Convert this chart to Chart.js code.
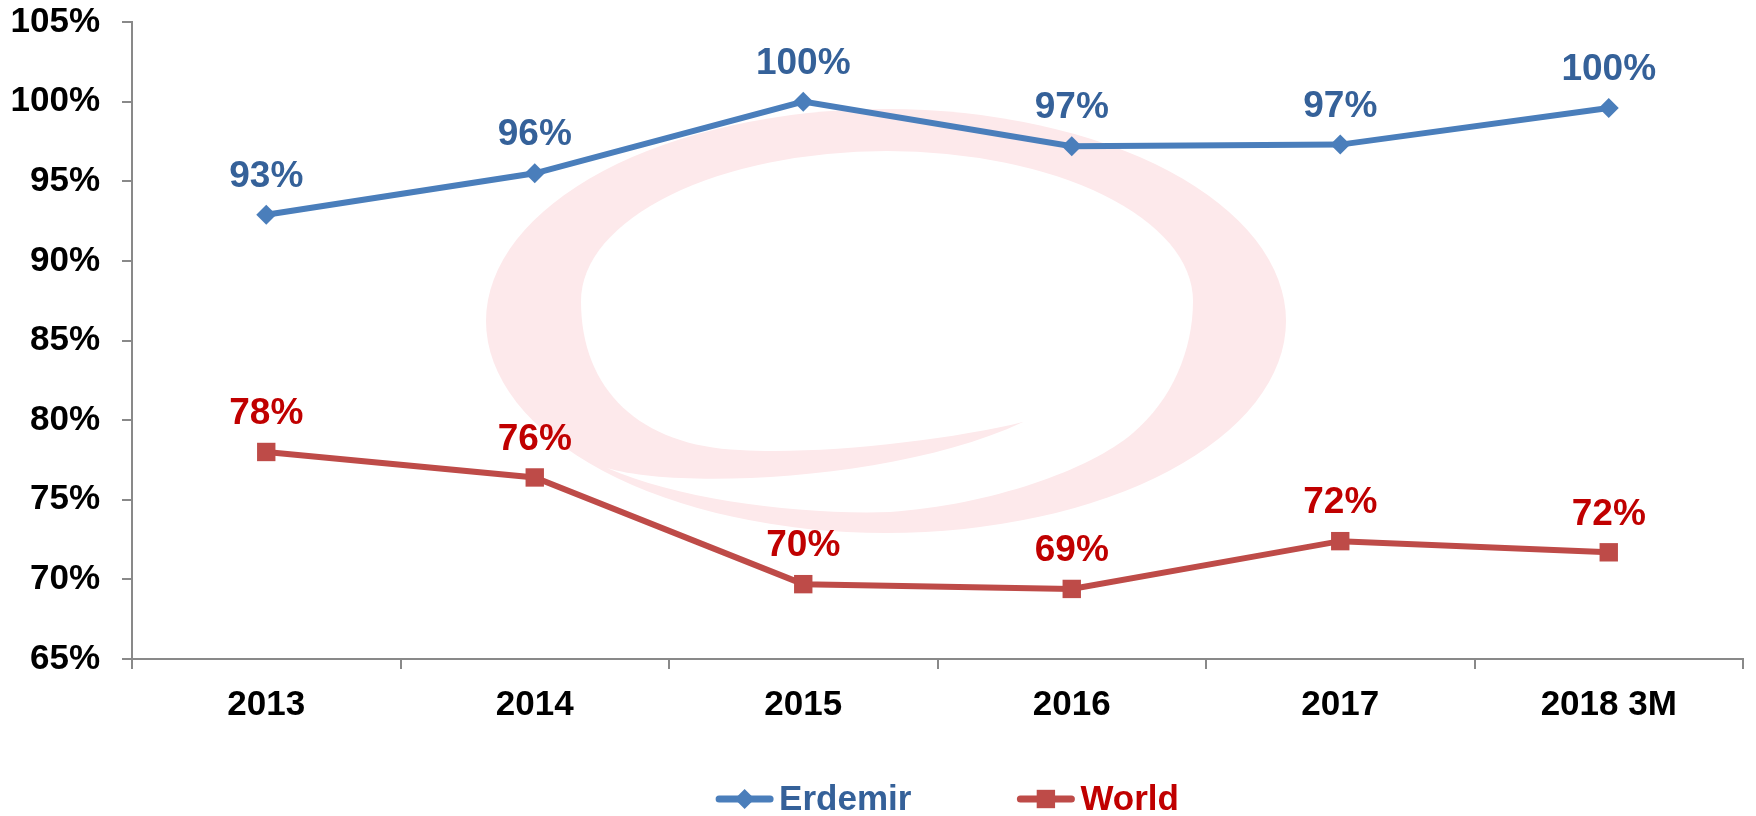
<!DOCTYPE html>
<html>
<head>
<meta charset="utf-8">
<script src="https://cdn.jsdelivr.net/npm/chart.js@4/dist/chart.umd.min.js"></script>
<style>
  html, body { margin: 0; padding: 0; background: #fff; }
  .wrap { width: 1756px; height: 816px; }
</style>
</head>
<body>
<div class="wrap"><canvas id="chart"></canvas></div>
<script>
const years = ['2013', '2014', '2015', '2016', '2017', '2018 3M'];
const erdemir = [92.9, 95.5, 100.0, 97.2, 97.3, 99.6];
const world = [78.0, 76.4, 69.7, 69.4, 72.4, 71.7];
const yTicks = { min: 65, max: 105, step: 5 };

const FONT = 'Arial, "Liberation Sans", sans-serif';
const axisGrey = '#898989';
const pink = 'rgb(253,233,235)';

// pale swirl logo behind the lines
const watermark = {
  id: 'watermark',
  beforeDatasetsDraw(c) {
    let ctx = c.ctx;
    ctx.save();
    ctx.fillStyle = pink;
    ctx.beginPath();
    ctx.ellipse(886, 321, 400, 212, 0, 0, Math.PI * 2);
    ctx.fill();
    // hole + gap, leaving the tail in pink
    ctx.fillStyle = '#fff';
    ctx.beginPath();
    ctx.moveTo(581, 301);
    ctx.ellipse(887, 301, 306, 150, 0, Math.PI, Math.PI * 2);
    ctx.bezierCurveTo(1193, 350, 1172, 400, 1133, 433);
    ctx.bezierCurveTo(1090, 470, 990, 505, 890, 512);
    ctx.bezierCurveTo(800, 515, 680, 500, 607, 468);
    ctx.bezierCurveTo(680, 490, 900, 480, 1023, 422);
    ctx.bezierCurveTo(950, 440, 820, 455, 740, 450);
    ctx.bezierCurveTo(640, 446, 581, 390, 581, 301);
    ctx.closePath();
    ctx.fill();
    ctx.restore();
  }
};

const valueLabels = {
  id: 'valueLabels',
  afterDatasetsDraw(c) {
    let ctx = c.ctx;
    ctx.save();
    ctx.font = 'bold 37px ' + FONT;
    ctx.textAlign = 'center';
    ctx.textBaseline = 'middle';
    c.data.datasets.forEach((ds, i) => {
      ctx.fillStyle = ds.labelColor;
      c.getDatasetMeta(i).data.forEach((pt, j) => {
        ctx.fillText(Math.round(ds.data[j]) + '%', pt.x, pt.y - 38);
      });
    });
    ctx.restore();
  }
};

function drawMarker(ctx, ds, x, y) {
  let r = ds.pointRadius;
  ctx.fillStyle = ds.borderColor;
  ctx.beginPath();
  if (ds.pointStyle === 'rect') {
    let s = r * Math.SQRT1_2;
    ctx.rect(x - s, y - s, 2 * s, 2 * s);
  } else {
    ctx.moveTo(x, y - r);
    ctx.lineTo(x + r, y);
    ctx.lineTo(x, y + r);
    ctx.lineTo(x - r, y);
    ctx.closePath();
  }
  ctx.fill();
}

const bottomLegend = {
  id: 'bottomLegend',
  afterDraw(c) {
    let ctx = c.ctx;
    ctx.save();
    ctx.font = 'bold 35px ' + FONT;
    ctx.textBaseline = 'middle';
    let symW = 59, gapText = 5, gapItem = 105, y = 799;
    let items = c.data.datasets.map(ds => ({ ds, w: ctx.measureText(ds.label).width }));
    let total = items.reduce((s, it) => s + symW + gapText + it.w, 0) + gapItem * (items.length - 1);
    let x = c.width / 2 + 69 - total / 2;
    items.forEach(it => {
      let ds = it.ds;
      ctx.strokeStyle = ds.borderColor;
      ctx.lineWidth = 7;
      ctx.lineCap = 'round';
      ctx.beginPath();
      ctx.moveTo(x + 4, y);
      ctx.lineTo(x + symW - 4, y);
      ctx.stroke();
      drawMarker(ctx, ds, x + symW / 2, y);
      ctx.fillStyle = ds.labelColor;
      ctx.fillText(ds.label, x + symW + gapText, y + 1);
      x += symW + gapText + it.w + gapItem;
    });
    ctx.restore();
  }
};

new Chart(document.getElementById('chart'), {
  type: 'line',
  data: {
    labels: years,
    datasets: [{
      label: 'Erdemir',
      data: erdemir,
      borderColor: '#4A7EBB',
      backgroundColor: '#4A7EBB',
      labelColor: '#356199',
      borderWidth: 6,
      pointStyle: 'rectRot',
      pointRadius: 10,
      pointBorderWidth: 0,
      tension: 0,
      fill: false
    }, {
      label: 'World',
      data: world,
      borderColor: '#BE4B48',
      backgroundColor: '#BE4B48',
      labelColor: '#C00000',
      borderWidth: 6,
      pointStyle: 'rect',
      pointRadius: 13,
      pointBorderWidth: 0,
      tension: 0,
      fill: false
    }]
  },
  options: {
    responsive: true,
    maintainAspectRatio: false,
    animation: false,
    layout: { padding: { left: 0, top: 22, right: 3, bottom: 75 } },
    plugins: {
      legend: { display: false },
      tooltip: { enabled: false }
    },
    scales: {
      x: {
        offset: true,
        grid: {
          offset: true,
          drawOnChartArea: false,
          tickLength: 10,
          color: axisGrey,
          lineWidth: 2
        },
        border: { display: true, color: axisGrey, width: 2 },
        ticks: {
          color: '#000',
          padding: 15,
          font: { family: FONT, size: 35, weight: 'bold' },
          maxRotation: 0
        }
      },
      y: {
        min: yTicks.min,
        max: yTicks.max,
        afterFit: s => {
          s.width = 132;
          s.paddingTop = 0;
          s.paddingBottom = 0;
        },
        grid: {
          drawOnChartArea: false,
          tickLength: 10,
          color: axisGrey,
          lineWidth: 2
        },
        border: { display: true, color: axisGrey, width: 2 },
        ticks: {
          stepSize: yTicks.step,
          color: '#000',
          padding: 22,
          font: { family: FONT, size: 35, weight: 'bold' },
          callback: v => v + '%'
        }
      }
    }
  },
  plugins: [watermark, valueLabels, bottomLegend]
});
</script>
</body>
</html>
